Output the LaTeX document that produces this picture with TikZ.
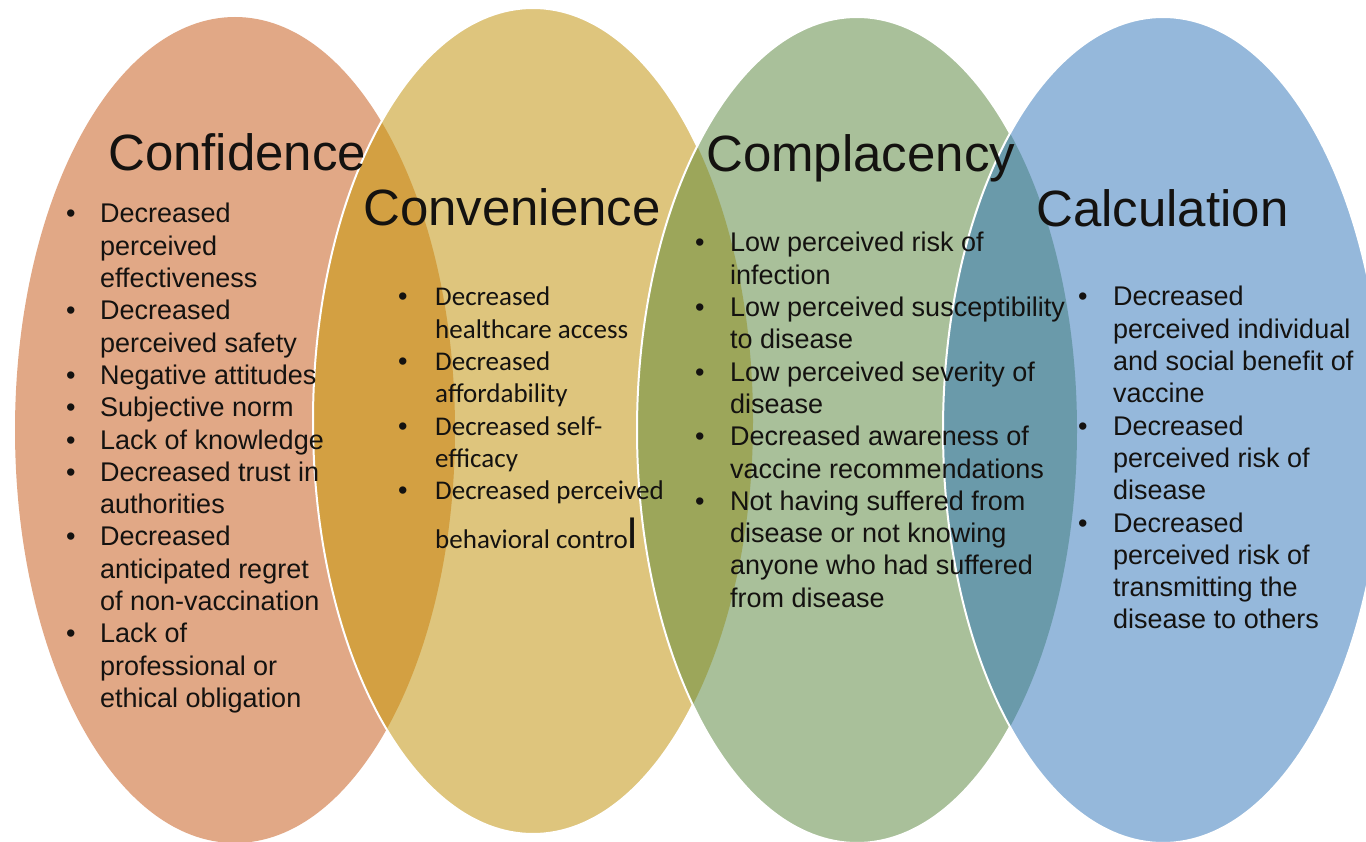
\documentclass[tikz,border=0pt]{standalone}
\usepackage{fontspec}
\setmainfont{Liberation Sans}
\newfontfamily\calibfont{Carlito}
\definecolor{corange}{RGB}{225,168,134}
\definecolor{cyellow}{RGB}{222,197,125}
\definecolor{cgreen}{RGB}{169,192,154}
\definecolor{cblue}{RGB}{149,184,219}
\definecolor{coy}{RGB}{211,160,66}
\definecolor{cyg}{RGB}{156,166,90}
\definecolor{cgb}{RGB}{106,154,170}
\definecolor{ink}{RGB}{20,18,16}
\tikzset{
  ovalshape/.style={x radius=220pt, y radius=413pt},
  rim/.style={draw=white, line width=2pt},
  title/.style={anchor=base west, inner sep=0pt, text=ink, font=\fontsize{51}{60}\selectfont},
  listtext/.style={anchor=base west, inner sep=0pt, text=ink, font=\fontsize{27}{32.3}\selectfont},
}
\begin{document}
\begin{tikzpicture}[x=1pt,y=-1pt]
\useasboundingbox (0,0) rectangle (1366,842);
\fill[white] (0,0) rectangle (1366,842);
% ellipses
\fill[corange] (235,430) ellipse [ovalshape];
\fill[cyellow] (533,421) ellipse [ovalshape];
\begin{scope}
  \clip (235,430) ellipse [ovalshape];
  \fill[coy] (533,421) ellipse [ovalshape];
\end{scope}
\path[rim] (533,421) ellipse [ovalshape];
\fill[cgreen] (857,430) ellipse [ovalshape];
\begin{scope}
  \clip (533,421) ellipse [ovalshape];
  \fill[cyg] (857,430) ellipse [ovalshape];
\end{scope}
\path[rim] (857,430) ellipse [ovalshape];
\fill[cblue] (1163,430) ellipse [ovalshape];
\begin{scope}
  \clip (857,430) ellipse [ovalshape];
  \fill[cgb] (1163,430) ellipse [ovalshape];
\end{scope}
\path[rim] (1163,430) ellipse [ovalshape];
% titles
\node[title] (t1) at (108,171) {Confidence};
\node[title] (t2) at (363,226) {Convenience};
\node[title] (t3) at (706,172) {Complacency};
\node[title] (t4) at (1036,227) {Calculation};
% lists
\node[listtext] (l1) at (66,223) {\begin{tabular}[t]{@{}p{34pt}@{}l@{}}
\textbullet & Decreased\\
 & perceived\\
 & effectiveness\\
\textbullet & Decreased\\
 & perceived safety\\
\textbullet & Negative attitudes\\
\textbullet & Subjective norm\\
\textbullet & Lack of knowledge\\
\textbullet & Decreased trust in\\
 & authorities\\
\textbullet & Decreased\\
 & anticipated regret\\
 & of non-vaccination\\
\textbullet & Lack of\\
 & professional or\\
 & ethical obligation
\end{tabular}};
\node[listtext] (l2) at (398,306) {\begin{tabular}[t]{@{}p{37pt}@{}l@{}}
\textbullet & {\calibfont Decreased}\\
 & {\calibfont healthcare access}\\
\textbullet & {\calibfont Decreased}\\
 & {\calibfont affordability}\\
\textbullet & {\calibfont Decreased self-}\\
 & {\calibfont efficacy}\\
\textbullet & {\calibfont Decreased perceived}
\end{tabular}};
\node[listtext] (l2b) at (435,548) {\calibfont behavioral contro{\fontsize{44}{44}\selectfont l}};
\node[listtext] (l3) at (695,252) {\begin{tabular}[t]{@{}p{35pt}@{}l@{}}
\textbullet & Low perceived risk of\\
 & infection\\
\textbullet & Low perceived susceptibility\\
 & to disease\\
\textbullet & Low perceived severity of\\
 & disease\\
\textbullet & Decreased awareness of\\
 & vaccine recommendations\\
\textbullet & Not having suffered from\\
 & disease or not knowing\\
 & anyone who had suffered\\
 & from disease
\end{tabular}};
\node[listtext] (l4) at (1078,306) {\begin{tabular}[t]{@{}p{35pt}@{}l@{}}
\textbullet & Decreased\\
 & perceived individual\\
 & and social benefit of\\
 & vaccine\\
\textbullet & Decreased\\
 & perceived risk of\\
 & disease\\
\textbullet & Decreased\\
 & perceived risk of\\
 & transmitting the\\
 & disease to others
\end{tabular}};
\end{tikzpicture}
\end{document}
